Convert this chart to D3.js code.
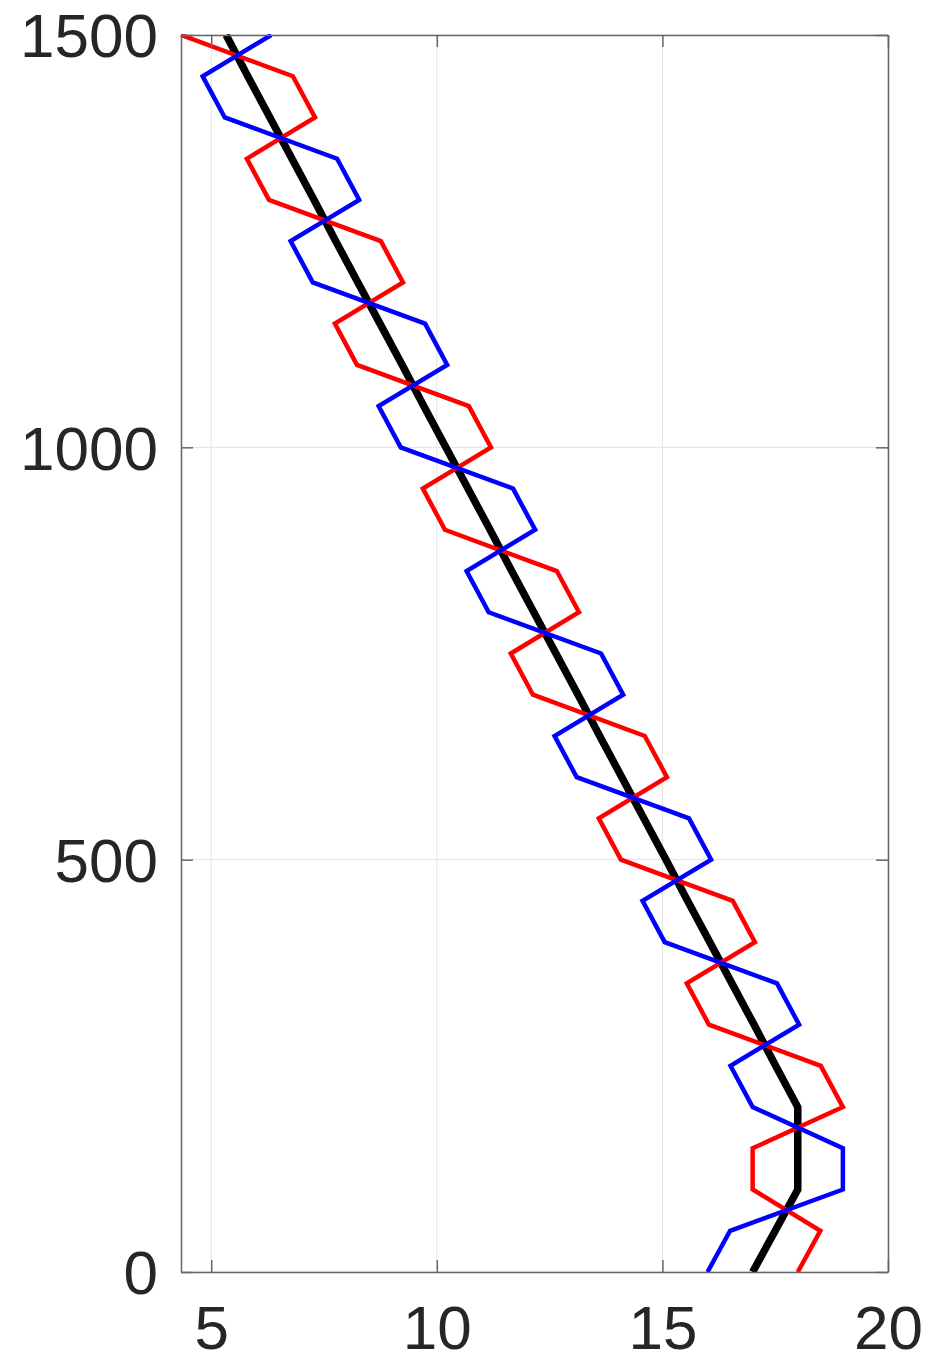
<!DOCTYPE html>
<html>
<head>
<meta charset="utf-8">
<script src="https://cdn.jsdelivr.net/npm/d3@7"></script>
<style>
  html, body { margin: 0; padding: 0; background: #fff; }
  svg { display: block; }
</style>
</head>
<body>
<svg id="chart" width="931" height="1359"></svg>
<script>
// Heights (m)
const heights = [0,50,100,150,200,250,300,350,400,450,500,550,600,650,700,750,800,850,900,950,1000,1050,1100,1150,1200,1250,1300,1350,1400,1450,1500];
// Black (mean) profile
const meanProfile = [17,17.5,18,18,18,17.51,17.03,16.54,16.05,15.56,15.08,14.59,14.10,13.61,13.13,12.64,12.15,11.66,11.18,10.69,10.20,9.71,9.23,8.74,8.25,7.76,7.28,6.79,6.30,5.81,5.33];
// Red profile
const redProfile = [18,18.5,17,17,19,18.51,16.03,15.54,17.05,16.56,14.08,13.59,15.10,14.61,12.13,11.64,13.15,12.66,10.18,9.69,11.20,10.71,8.23,7.74,9.25,8.76,6.28,5.79,7.30,6.81,4.33];
// Blue profile
const blueProfile = [16,16.5,19,19,17,16.51,18.03,17.54,15.05,14.56,16.08,15.59,13.10,12.61,14.13,13.64,11.15,10.66,12.18,11.69,9.20,8.71,10.23,9.74,7.25,6.76,8.28,7.79,5.30,4.81,6.33];
// Ticks
const xTicks = [5,10,15,20];
const yTicks = [0,500,1000,1500];
const xDomain = [4.33, 20];
const yDomain = [0, 1500];

const svg = d3.select("#chart");
const L = 181, R = 888, T = 35, B = 1272;
const x = d3.scaleLinear().domain(xDomain).range([L, R]);
const y = d3.scaleLinear().domain(yDomain).range([B, T]);

const fontFam = "'Liberation Sans', Arial, Helvetica, sans-serif";
const axisColor = "#666666";
const textColor = "#262626";
const fmt = d3.format("d");

// grid
const grid = svg.append("g");
grid.selectAll("line.gx").data(xTicks).enter().append("line")
  .attr("x1", d => x(d)).attr("x2", d => x(d)).attr("y1", T).attr("y2", B)
  .attr("stroke", "#e3e3e3").attr("stroke-width", 1);
grid.selectAll("line.gy").data(yTicks).enter().append("line")
  .attr("x1", L).attr("x2", R).attr("y1", d => y(d)).attr("y2", d => y(d))
  .attr("stroke", "#e3e3e3").attr("stroke-width", 1);

// lines
svg.append("clipPath").attr("id", "clip").append("rect")
  .attr("x", L - 1).attr("y", T - 1).attr("width", R - L + 2).attr("height", B - T + 2);
const plot = svg.append("g").attr("clip-path", "url(#clip)");
const lineGen = vals => d3.line().x((d, i) => x(vals[i])).y(d => y(d))(heights);

plot.append("path").attr("d", lineGen(meanProfile)).attr("fill", "none")
  .attr("stroke", "#000").attr("stroke-width", 7.5).attr("stroke-linejoin", "miter");
plot.append("path").attr("d", lineGen(redProfile)).attr("fill", "none")
  .attr("stroke", "#ff0000").attr("stroke-width", 4.5).attr("stroke-linejoin", "miter");
plot.append("path").attr("d", lineGen(blueProfile)).attr("fill", "none")
  .attr("stroke", "#0000ff").attr("stroke-width", 4.5).attr("stroke-linejoin", "miter");

// axes (inner ticks)
const tl = 12;
const gB = svg.append("g").attr("transform", `translate(0,${B})`)
  .call(d3.axisBottom(x).tickValues(xTicks).tickFormat(fmt).tickSizeInner(-tl).tickSizeOuter(0).tickPadding(33));
const gT = svg.append("g").attr("transform", `translate(0,${T})`)
  .call(d3.axisTop(x).tickValues(xTicks).tickSizeInner(-tl).tickSizeOuter(0).tickFormat(""));
const gL = svg.append("g").attr("transform", `translate(${L},0)`)
  .call(d3.axisLeft(y).tickValues(yTicks).tickFormat(fmt).tickSizeInner(-tl).tickSizeOuter(0).tickPadding(23));
const gR = svg.append("g").attr("transform", `translate(${R},0)`)
  .call(d3.axisRight(y).tickValues(yTicks).tickSizeInner(-tl).tickSizeOuter(0).tickFormat(""));

[gB, gT, gL, gR].forEach(g => {
  g.select(".domain").attr("stroke", axisColor).attr("stroke-width", 1.5);
  g.selectAll(".tick line").attr("stroke", axisColor).attr("stroke-width", 1.5);
  g.selectAll(".tick text").attr("fill", textColor).attr("font-family", fontFam).attr("font-size", 62);
});
gB.selectAll(".tick text").attr("dy", "0.71em");
gL.selectAll(".tick text").attr("dy", "0.35em");
</script>
</body>
</html>
